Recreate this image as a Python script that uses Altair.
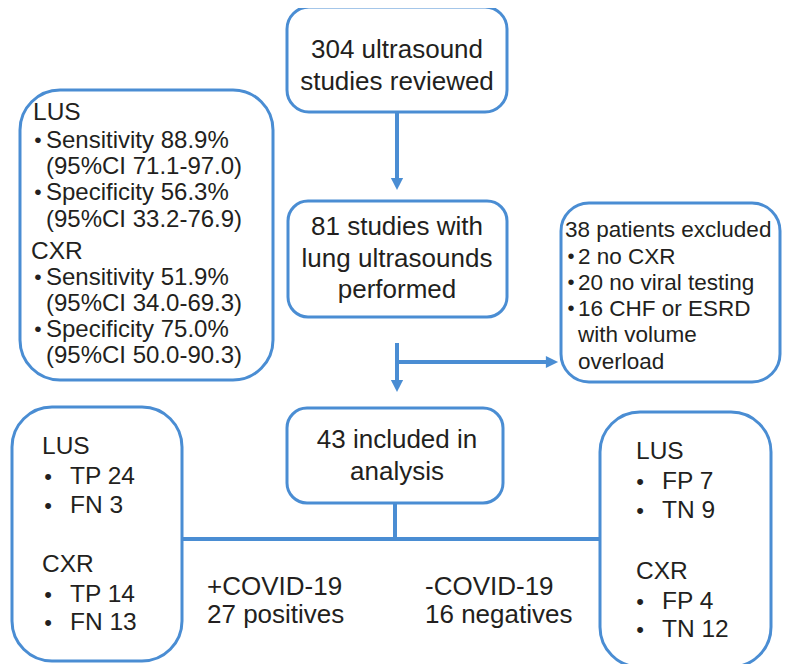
import altair as alt
import pandas as pd

BLUE = "#4A8DD3"
TEXT = "#231F20"
FONT = "Liberation Sans"

# ---------------- content ----------------
top_lines = ["304 ultrasound", "studies reviewed"]
mid_lines = ["81 studies with", "lung ultrasounds", "performed"]
incl_lines = ["43 included in", "analysis"]

stats_heads = ["LUS", "CXR"]
stats_items = ["Sensitivity 88.9%", "(95%CI 71.1-97.0)", "Specificity 56.3%", "(95%CI 33.2-76.9)",
               "Sensitivity 51.9%", "(95%CI 34.0-69.3)", "Specificity 75.0%", "(95%CI 50.0-90.3)"]
stats_bullet = [True, False, True, False, True, False, True, False]

excl_title = ["38 patients excluded"]
excl_items = ["2 no CXR", "20 no viral testing", "16 CHF or ESRD", "with volume", "overload"]
excl_bullet = [True, True, True, False, False]

pos_heads = ["LUS", "CXR"]
pos_items = ["TP 24", "FN 3", "TP 14", "FN 13"]
neg_heads = ["LUS", "CXR"]
neg_items = ["FP 7", "TN 9", "FP 4", "TN 12"]

pos_label = ["+COVID-19", "27 positives"]
neg_label = ["-COVID-19", "16 negatives"]

# ---------------- layout ----------------
W, H = 778, 656
X0, Y0 = 8, 8

boxes = [  # x1, x2, y1, y2, corner radius
    (287, 507, 7, 112, 22),
    (288, 507, 201, 317, 20),
    (20, 273, 90, 380, 40),
    (561, 780, 203, 382, 28),
    (287, 503, 408, 503, 20),
    (12, 182, 407, 661, 40),
    (600, 771, 412, 667, 40),
]

rules = [  # x1, x2, y1, y2
    (397, 397, 112, 184),
    (397, 397, 343, 386),
    (397, 552, 362, 362),
    (395, 395, 503, 539),
    (182, 600, 539, 539),
]
heads_down = [(397, 184), (397, 386)]
heads_right = [(552, 362)]

text_rows = []      # text, x, y, size, align
def add(t, x, y, s, a):
    text_rows.append(dict(text=t, x=x, y=y, size=s, align=a))

for t, y in zip(top_lines, [50, 82]):
    add(t, 397, y, 26, "center")
for t, y in zip(mid_lines, [227, 259, 290]):
    add(t, 397, y, 26, "center")
for t, y in zip(incl_lines, [440, 472]):
    add(t, 397, y, 26, "center")

stats_y_heads = [113, 252]
stats_y_items = [141, 167, 193, 220, 278, 304, 330, 356]
for t, y, x in zip(stats_heads, stats_y_heads, [33, 31]):
    add(t, x, y, 24.5, "left")
for t, y, b in zip(stats_items, stats_y_items, stats_bullet):
    add(t, 46, y, 24, "left")
    if b:
        add("•", 38, y, 21, "center")

add(excl_title[0], 565, 230, 22.5, "left")
for t, y, b in zip(excl_items, [257, 283, 309, 335, 362], excl_bullet):
    add(t, 578, y, 22.5, "left")
    if b:
        add("•", 571, y, 20, "center")

for t, y in zip(pos_heads, [447, 565]):
    add(t, 42, y, 24.5, "left")
for t, y in zip(pos_items, [477, 506, 595, 623]):
    add("•", 48, y, 22, "center")
    add(t, 70, y, 24.5, "left")

for t, y in zip(neg_heads, [452, 572]):
    add(t, 636, y, 24.5, "left")
for t, y in zip(neg_items, [482, 511, 602, 630]):
    add("•", 640, y, 22, "center")
    add(t, 662, y, 24.5, "left")

for t, y in zip(pos_label, [587, 615]):
    add(t, 207, y, 26, "left")
for t, y in zip(neg_label, [587, 615]):
    add(t, 425, y, 26, "left")

text_df = pd.DataFrame(text_rows)

xs = alt.Scale(domain=[X0, X0 + W], nice=False, zero=False)
ys = alt.Scale(domain=[Y0, Y0 + H], nice=False, zero=False, reverse=True)

layers = []
for (x1, x2, y1, y2, r) in boxes:
    d = pd.DataFrame([dict(x1=x1, x2=x2, y1=y1, y2=y2)])
    layers.append(
        alt.Chart(d).mark_rect(cornerRadius=r, fill="white", stroke=BLUE, strokeWidth=3).encode(
            x=alt.X("x1:Q", scale=xs, axis=None), x2="x2:Q",
            y=alt.Y("y1:Q", scale=ys, axis=None), y2="y2:Q")
    )

rule_df = pd.DataFrame([dict(x1=a, x2=b, y1=c, y2=d) for a, b, c, d in rules])
layers.append(
    alt.Chart(rule_df).mark_rule(color=BLUE, strokeWidth=4).encode(
        x=alt.X("x1:Q", scale=xs, axis=None), x2="x2:Q",
        y=alt.Y("y1:Q", scale=ys, axis=None), y2="y2:Q")
)

down_df = pd.DataFrame([dict(x=a, y=b) for a, b in heads_down])
layers.append(
    alt.Chart(down_df).mark_point(shape="M-1,-1L1,-1L0,1Z", filled=True, opacity=1,
                                  color=BLUE, size=150, strokeWidth=0).encode(
        x=alt.X("x:Q", scale=xs, axis=None), y=alt.Y("y:Q", scale=ys, axis=None))
)
right_df = pd.DataFrame([dict(x=a, y=b) for a, b in heads_right])
layers.append(
    alt.Chart(right_df).mark_point(shape="M-1,-1L1,0L-1,1Z", filled=True, opacity=1,
                                   color=BLUE, size=150, strokeWidth=0).encode(
        x=alt.X("x:Q", scale=xs, axis=None), y=alt.Y("y:Q", scale=ys, axis=None))
)

for al in ["left", "center"]:
    layers.append(
        alt.Chart(text_df[text_df["align"] == al]).mark_text(
            align=al, baseline="middle", font=FONT, color=TEXT).encode(
            x=alt.X("x:Q", scale=xs, axis=None), y=alt.Y("y:Q", scale=ys, axis=None),
            text="text:N", size=alt.Size("size:Q", scale=None, legend=None))
    )

chart = alt.layer(*layers).properties(
    width=W, height=H, autosize=alt.AutoSizeParams(type="none"), padding=0,
    background="white"
).configure_view(stroke=None)

chart.save("out.html", embed_options={"renderer": "svg", "actions": False})
